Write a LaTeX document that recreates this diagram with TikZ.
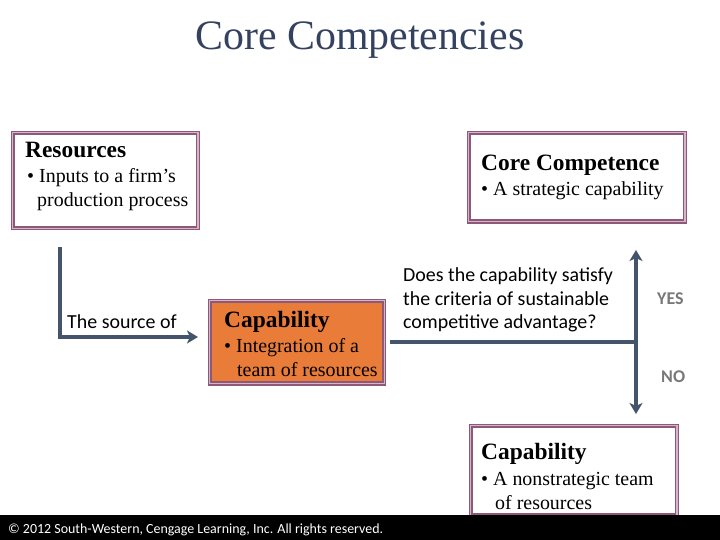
\documentclass[tikz,border=0pt]{standalone}
\usepackage{fontspec}
\setmainfont{Liberation Serif}
\newfontfamily\calibri{Carlito}
\usepackage{xcolor}
\usetikzlibrary{arrows.meta}

\definecolor{titleblue}{RGB}{52,66,96}
\definecolor{flowgray}{RGB}{68,84,106}
\definecolor{framemauve}{RGB}{140,90,120}
\definecolor{framepink}{RGB}{215,180,200}
\definecolor{caporange}{RGB}{234,124,58}
\definecolor{answergray}{RGB}{120,120,120}

\tikzset{
  box/.style={draw=framemauve, double=framepink, line width=1.5bp, double distance=1.2bp, anchor=north west, inner sep=0pt},
  head/.style={anchor=base west, inner sep=0pt, font=\fontsize{23.5}{26}\selectfont\bfseries},
  item/.style={anchor=base west, inner sep=0pt, font=\fontsize{20}{22}\selectfont},
  flow/.style={draw=flowgray, line width=3.5bp},
  tip/.style={-{Stealth[length=11bp,width=13bp,inset=3bp]}},
  question/.style={anchor=base west, inner sep=0pt, font=\calibri\fontsize{20}{22}\selectfont},
  answer/.style={anchor=base west, inner sep=0pt, text=answergray, font=\calibri\fontsize{18}{20}\selectfont\bfseries}
}

\begin{document}
\begin{tikzpicture}[x=1bp, y=-1bp]

    % Frame of the slide
    \useasboundingbox[fill=white] (0,0) rectangle (720,540);

    % Title
    \node[text=titleblue, font=\fontsize{42}{48}\selectfont] (title) at (360,40) {Core Competencies};

    % Resources box
    \node[box, minimum width=186, minimum height=96] (res) at (12,132) {};
    \node[head] (reshead) at (25,158) {Resources};
    \node[item] (resitem1) at (27,183) {\textbullet\ Inputs to a firm’s};
    \node[item] (resitem2) at (37,207) {production process};

    % Core competence box
    \node[box, minimum width=217, minimum height=89] (core) at (468,132) {};
    \node[head] (corehead) at (481,171) {Core Competence};
    \node[item] (coreitem) at (481,196) {\textbullet\ A strategic capability};

    % Capability box (orange)
    \node[box, fill=caporange, minimum width=175, minimum height=83] (cap) at (209,300) {};
    \node[head] (caphead) at (224,327) {Capability};
    \node[item] (capitem1) at (224,352) {\textbullet\ Integration of a};
    \node[item] (capitem2) at (237,376) {team of resources};

    % Nonstrategic capability box
    \node[box, minimum width=207, minimum height=90] (non) at (470,425) {};
    \node[head] (nonhead) at (481,459) {Capability};
    \node[item] (nonitem1) at (481,485) {\textbullet\ A nonstrategic team};
    \node[item] (nonitem2) at (495,509) {of resources};

    % Resources -> capability
    \coordinate (src) at (60,247);
    \draw[flow, tip, shorten >=11bp] (src) |- (cap.west |- 0,337);
    \node[question] (source) at (67,328) {The source of};

    % Test for sustainable advantage
    \coordinate (fork) at (636,342);
    \coordinate (yes) at (636,250);
    \coordinate (no) at (636,414);
    \draw[flow] (cap.east |- fork) ++(5,0) -- (fork);
    \draw[flow, {Stealth[length=11bp,width=13bp,inset=3bp]}-{Stealth[length=11bp,width=13bp,inset=3bp]}] (yes) -- (no);
    \node[question] (ask1) at (403,282) {Does the capability satisfy};
    \node[question] (ask2) at (403,305) {the criteria of sustainable};
    \node[question] (ask3) at (403,328) {competitive advantage?};
    \node[answer] (yeslabel) at (657,304) {YES};
    \node[answer] (nolabel) at (661,382) {NO};

    % Footer bar
    \fill[black] (0,515) rectangle (720,540);
    \node[anchor=base west, inner sep=0pt, text=white, font=\calibri\fontsize{14}{16}\selectfont] (footer) at (8,533) {© 2012 South-Western, Cengage Learning, Inc. All rights reserved.};

\end{tikzpicture}
\end{document}
